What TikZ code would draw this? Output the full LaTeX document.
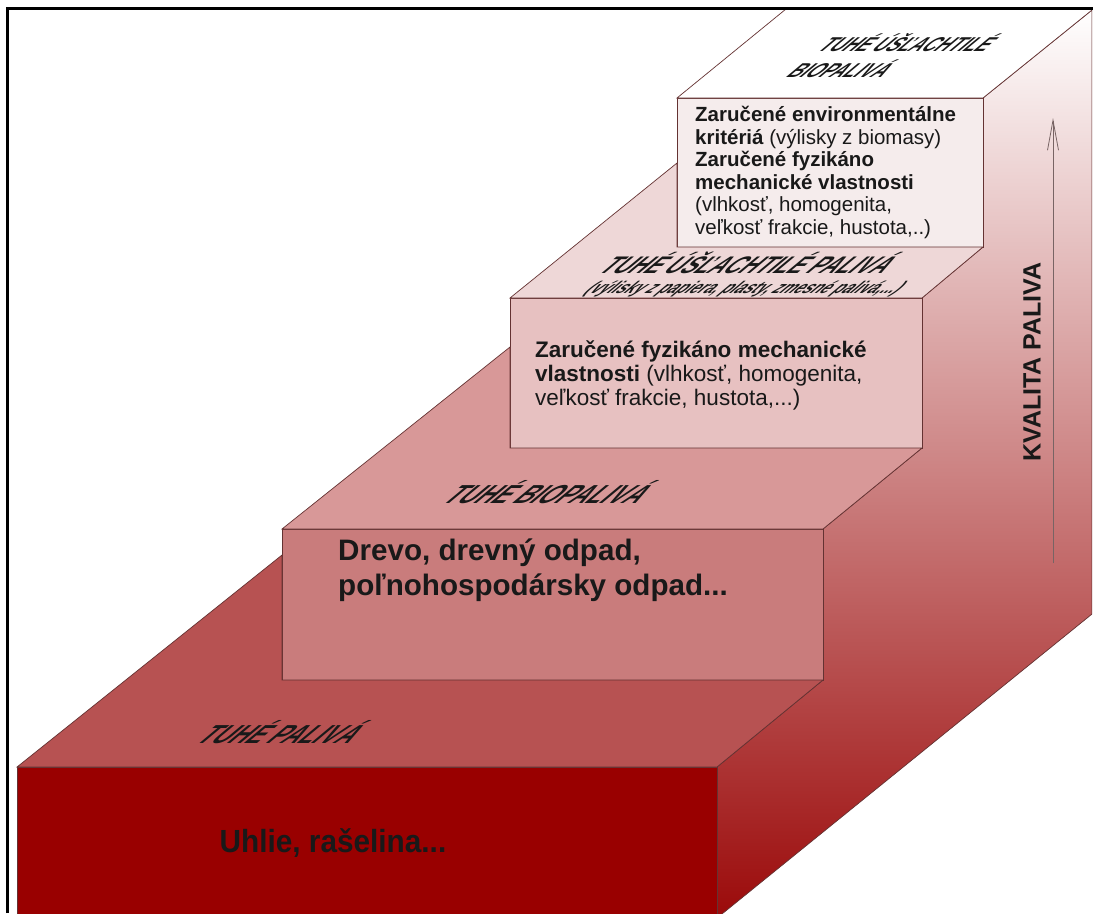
\documentclass[tikz,border=0pt]{standalone}
\usepackage{fontspec}
\setmainfont{Liberation Sans}
\usetikzlibrary{arrows.meta}
\usetikzlibrary{positioning}

\definecolor{edgecol}{RGB}{100,50,50}
\definecolor{stepAfront}{RGB}{153,0,0}
\definecolor{stepAtop}{RGB}{183,82,82}
\definecolor{stepBfront}{RGB}{201,124,124}
\definecolor{stepBtop}{RGB}{216,152,152}
\definecolor{stepCfront}{RGB}{231,193,193}
\definecolor{stepCtop}{RGB}{238,215,215}
\definecolor{stepDfront}{RGB}{245,236,236}
\definecolor{sidedark}{RGB}{155,10,10}
\definecolor{txtcol}{RGB}{25,25,25}
\definecolor{arrowcol}{RGB}{120,100,100}

\begin{document}
\begin{tikzpicture}[
      x = 1pt, y = -1pt,
      >={Straight Barb[length=30pt, width=11pt]},
      face/.style = { draw = edgecol, line width = .7pt },
      steplabel/.style = {
        xslant = 1.2, xscale = .9, inner sep = 0pt, text = txtcol,
        font = \fontsize{26}{30}\selectfont\bfseries
      },
      facetext/.style = {
        align = left, anchor = north west, inner sep = 0pt, text = txtcol
      },
    ]

    \useasboundingbox (0,0) rectangle (1095,913);

    \begin{scope}
      \clip (8.5,9.5) rectangle (1092,913);

      % side of the stairs
      \draw[face, top color = white, bottom color = sidedark]
        (717,918) -- (717,767) -- (823,680) -- (823,529) -- (922,448)
        -- (922,298) -- (983,247) -- (983,98) -- (1092,10) -- (1092,614) -- cycle;

      \foreach \xa/\ya/\xb/\yb/\col in {17/767/717/920/stepAfront,
          282/529/823/680/stepBfront, 510/298/922/448/stepCfront,
          677/98/983/247/stepDfront} {
        \draw[face, fill = \col] (\xa,\ya) rectangle (\xb,\yb);
      }

      \draw[face, fill = stepAtop] (17,767) -- (717,767) -- (823,680) -- (282,680) -- (282,555) -- cycle;
      \draw[face, fill = stepBtop] (282,529) -- (823,529) -- (922,448) -- (510,448) -- (510,347) -- cycle;
      \draw[face, fill = stepCtop] (510,298) -- (922,298) -- (983,247) -- (677,247) -- (677,163) -- cycle;
      \draw[face, fill = white] (677,98) -- (983,98) -- (1092,10) -- (1092,0) -- (797,0) -- cycle;
    \end{scope}

    % labels on the treads
    \node[steplabel, align = left, font = \fontsize{20}{26}\selectfont\bfseries] (labD) at (895,56) {TUHÉ ÚŠĽACHTILÉ\\BIOPALIVÁ};
    \node[steplabel, font = \fontsize{24}{28}\selectfont\bfseries] (labC) at (752,263) {TUHÉ ÚŠĽACHTILÉ PALIVÁ};
    \node[steplabel, font = \fontsize{17}{20}\selectfont\bfseries] (labCsub) at (745,289) {(výlisky z papiera, plasty, zmesné palivá,...)};
    \node[steplabel] (labB) at (552,492) {TUHÉ BIOPALIVÁ};
    \node[steplabel] (labA) at (285,732) {TUHÉ PALIVÁ};

    % texts on the risers
    \node[facetext, font = \fontsize{20.5}{22.6}\selectfont] (txtD) at (695,106) {%
      \textbf{Zaručené environmentálne}\\
      \textbf{kritériá} (výlisky z biomasy)\\
      \textbf{Zaručené fyzikáno}\\
      \textbf{mechanické vlastnosti}\\
      (vlhkosť, homogenita,\\
      veľkosť frakcie, hustota,..)};
    \node[facetext, font = \fontsize{22.5}{24}\selectfont] (txtC) at (535,340) {%
      \textbf{Zaručené fyzikáno mechanické}\\
      \textbf{vlastnosti} (vlhkosť, homogenita,\\
      veľkosť frakcie, hustota,...)};
    \node[facetext, font = \fontsize{29.6}{35}\selectfont\bfseries] (txtB) at (338,539) {%
      Drevo, drevný odpad,\\
      poľnohospodársky odpad...};
    \node[text = txtcol, xscale = .93, font = \fontsize{32}{36}\selectfont\bfseries] (txtA) at (333,843) {Uhlie, rašelina...};

    % quality axis
    \coordinate (qlow) at (1053,563);
    \coordinate (qhigh) at (1053,118);
    \draw[arrowcol, line width = .8pt, ->] (qlow) -- (qhigh);
    \node[text = txtcol, rotate = 90, font = \fontsize{25}{30}\selectfont\bfseries] (kval) at (1032,362) {KVALITA PALIVA};

    \draw[line width = 3pt] (7,913) -- (7,8) -- (1093,8);
  \end{tikzpicture}
\end{document}
